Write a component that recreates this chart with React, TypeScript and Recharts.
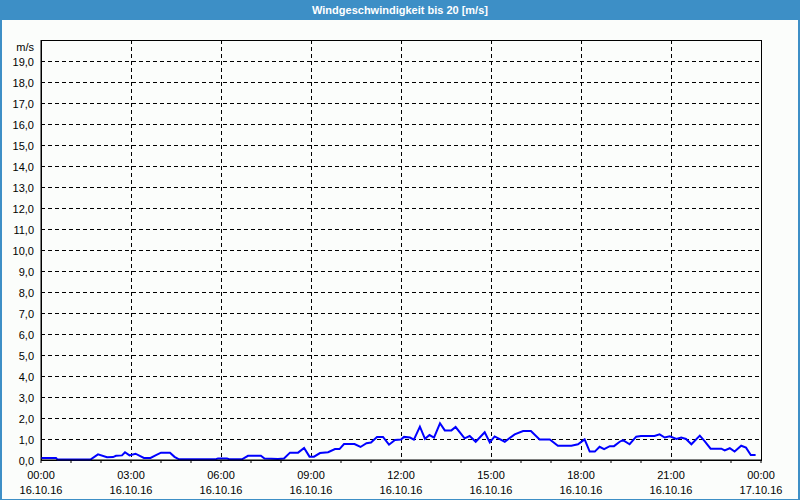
import React from "react";
import { LineChart, Line, XAxis, YAxis, CartesianGrid, ReferenceArea } from "recharts";

const title = "Windgeschwindigkeit bis 20 [m/s]";
const unit = "m/s";

// hours since 16.10.16 00:00
const hours = [
	0.0, 0.5, 0.55, 1.65, 1.9, 2.2, 2.4, 2.5, 2.7, 2.8, 2.95, 3.15, 3.43, 3.65, 3.85, 4.0, 4.3, 4.45, 4.6, 5.8,
	5.9, 6.2, 6.3, 6.7, 6.9, 7.33, 7.45, 7.9, 8.1, 8.3, 8.57, 8.77, 8.95, 9.1, 9.3, 9.57, 9.8, 9.95, 10.1, 10.45,
	10.65, 10.85, 11.0, 11.2, 11.4, 11.6, 11.8, 12.0, 12.1, 12.3, 12.43, 12.63, 12.8, 12.95, 13.1, 13.3, 13.46, 13.68, 13.82, 14.12,
	14.29, 14.49, 14.79, 14.96, 15.12, 15.46, 15.79, 16.07, 16.33, 16.62, 16.96, 17.23, 17.68, 17.9, 18.12, 18.29, 18.46, 18.62, 18.77, 18.96,
	19.1, 19.29, 19.4, 19.62, 19.84, 20.0, 20.45, 20.62, 20.79, 20.96, 21.18, 21.34, 21.5, 21.68, 21.96, 22.12, 22.32, 22.68, 22.79, 22.96,
	23.12, 23.34, 23.5, 23.66, 23.82,
];
const speeds = [
	0.1, 0.1, 0.02, 0.02, 0.27, 0.13, 0.14, 0.2, 0.22, 0.37, 0.22, 0.3, 0.1, 0.1, 0.24, 0.35, 0.35, 0.15, 0.03, 0.03,
	0.07, 0.07, 0.03, 0.03, 0.2, 0.2, 0.07, 0.05, 0.07, 0.35, 0.35, 0.57, 0.16, 0.16, 0.33, 0.37, 0.52, 0.52, 0.76, 0.76,
	0.62, 0.8, 0.83, 1.1, 1.1, 0.73, 0.95, 0.98, 1.1, 1.07, 0.97, 1.59, 1.01, 1.19, 1.07, 1.75, 1.41, 1.41, 1.57, 1.03,
	1.14, 0.87, 1.32, 0.84, 1.12, 0.87, 1.22, 1.38, 1.38, 0.98, 0.98, 0.68, 0.68, 0.75, 0.98, 0.4, 0.4, 0.63, 0.52, 0.66,
	0.66, 0.87, 0.95, 0.75, 1.11, 1.14, 1.14, 1.22, 1.07, 1.13, 1.0, 1.07, 1.0, 0.75, 1.16, 0.9, 0.54, 0.54, 0.46, 0.56,
	0.4, 0.68, 0.59, 0.24, 0.24,
];

const hourTicks = Array.from({ length: 25 }, (_, i) => i);
const gridHours = [3, 6, 9, 12, 15, 18, 21];
const timeLabels = ["00:00", "03:00", "06:00", "09:00", "12:00", "15:00", "18:00", "21:00", "00:00"];
const dateLabels = ["16.10.16", "16.10.16", "16.10.16", "16.10.16", "16.10.16", "16.10.16", "16.10.16", "16.10.16", "17.10.16"];
const yTicks = Array.from({ length: 21 }, (_, i) => i);

const data = hours.map((h, i) => ({ h, v: speeds[i] }));

const FONT = "'Liberation Sans', Arial, sans-serif";

function XTick({ x, y, payload }: any) {
	const h = payload.value;
	if (h % 3 !== 0) return null;
	const i = h / 3;
	return (
		<g>
			<text x={x} y={y} dy={16} textAnchor="middle" fontSize={11} fontFamily={FONT} fill="#000">{timeLabels[i]}</text>
			<text x={x} y={y} dy={31} textAnchor="middle" fontSize={11} fontFamily={FONT} fill="#000">{dateLabels[i]}</text>
		</g>
	);
}

function YTick({ x, y, payload }: any) {
	const v = payload.value;
	if (v === 20) {
		return <text x={x} y={y} dy={11} textAnchor="end" fontSize={11} fontFamily={FONT} fill="#000">{unit}</text>;
	}
	return (
		<text x={x} y={y} dy={5} textAnchor="end" fontSize={11} fontFamily={FONT} fill="#000">{v.toFixed(1).replace(".", ",")}</text>
	);
}

export default function App() {
	return (
		<div style={{ position: "absolute", left: 0, top: 0, width: 800, height: 500, background: "#3d8fc6" }}>
			<div style={{ position: "absolute", left: 0, top: 0, width: 800, height: 20, lineHeight: "20px", textAlign: "center", color: "#fff", fontFamily: FONT, fontSize: 11, fontWeight: "bold" }}>
				{title}
			</div>
			<div style={{ position: "absolute", left: 2, top: 20, width: 796, height: 479, background: "#fbfdfb" }}>
				<LineChart width={796} height={478} data={data} margin={{ top: 20, right: 37, bottom: 0, left: 0 }}>
					<CartesianGrid
						stroke="#000"
						strokeDasharray="4 3"
						shapeRendering="crispEdges"
						verticalCoordinatesGenerator={({ offset }: any) => gridHours.map((g) => offset.left + (g / 24) * offset.width)}
					/>
					<XAxis
						dataKey="h"
						type="number"
						domain={[0, 24]}
						ticks={hourTicks}
						interval={0}
						height={38}
						tickSize={3}
						tickMargin={0}
						axisLine={{ stroke: "#000" }}
						tickLine={{ stroke: "#000" }}
						tick={<XTick />}
					/>
					<YAxis
						type="number"
						domain={[0, 20]}
						ticks={yTicks}
						interval={0}
						width={39}
						tickLine={false}
						tickSize={0}
						tickMargin={7}
						axisLine={{ stroke: "#000" }}
						tick={<YTick />}
					/>
					<ReferenceArea x1={0} x2={24} y1={0} y2={20} fill="none" stroke="#000" strokeWidth={1} shapeRendering="crispEdges" />
					<Line type="linear" dataKey="v" stroke="#0000ff" strokeWidth={2} dot={false} isAnimationActive={false} />
				</LineChart>
			</div>
		</div>
	);
}
